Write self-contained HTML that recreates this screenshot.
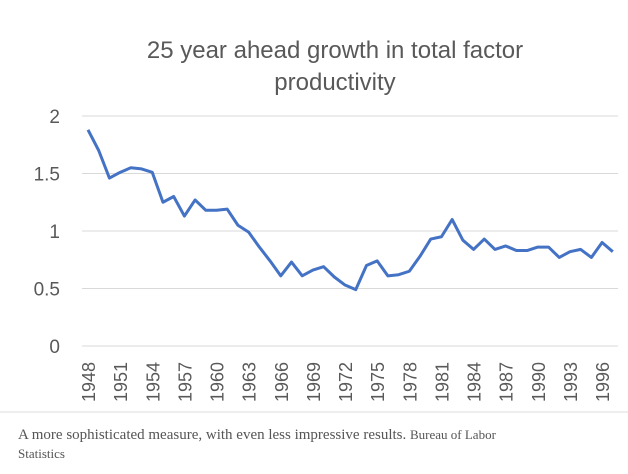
<!DOCTYPE html>
<html><head><meta charset="utf-8"><style>
body{margin:0;background:#fff;width:628px;height:469px;overflow:hidden;font-family:"Liberation Sans",sans-serif}
</style></head><body>
<svg width="628" height="469" id="c">
<text x="335" y="58" text-anchor="middle" font-size="24" fill="#595959">25 year ahead growth in total factor</text>
<text x="335" y="90" text-anchor="middle" font-size="24" fill="#595959">productivity</text>
<g id="grid"></g><g id="xt"></g>
<line x1="0" y1="412" x2="628" y2="412" stroke="#ddd"/>
<text x="18" y="439" font-family="Liberation Serif,serif" font-size="15" fill="#555">A more sophisticated measure, with even less impressive results. <tspan font-size="13">Bureau of Labor</tspan></text>
<text x="18" y="458" font-family="Liberation Serif,serif" font-size="13" fill="#555">Statistics</text>
</svg>
<script>
const years=[];for(let y=1948;y<=1997;y++)years.push(y);
const values=[1.88,1.70,1.46,1.51,1.55,1.54,1.51,1.25,1.30,1.13,1.27,1.18,1.18,1.19,1.05,0.99,0.86,0.74,0.61,0.73,0.61,0.66,0.69,0.60,0.53,0.49,0.70,0.74,0.61,0.62,0.65,0.78,0.93,0.95,1.10,0.92,0.84,0.93,0.84,0.87,0.83,0.83,0.86,0.86,0.77,0.82,0.84,0.77,0.90,0.82];
const yTicks=[0,0.5,1,1.5,2];
const yTickLabels=["0","0.5","1","1.5","2"];
const NS="http://www.w3.org/2000/svg";
const X=y=>88+(y-1948)*10.71;
const Y=v=>346-v*115;
const g=document.getElementById('grid'),xt=document.getElementById('xt'),svg=document.getElementById('c');
yTicks.forEach((t,i)=>{
 const l=document.createElementNS(NS,'line');
 
 
 l.setAttribute('x1',82);l.setAttribute('x2',618);l.setAttribute('y1',Y(t));l.setAttribute('y2',Y(t));
 l.setAttribute('stroke','#d9d9d9');g.appendChild(l);
 const tx=document.createElementNS(NS,'text');
 
 
 tx.setAttribute('x',60);tx.setAttribute('y',Y(t)+7);tx.setAttribute('text-anchor','end');
 tx.setAttribute('font-size','19');tx.setAttribute('fill','#595959');tx.textContent=yTickLabels[i];g.appendChild(tx);
});
years.forEach(y=>{if((y-1948)%3)return;
 const tx=document.createElementNS(NS,'text');
 
 
 tx.setAttribute('transform',`translate(${X(y)+7},402) rotate(-90)`);
 tx.setAttribute('font-size','18');tx.setAttribute('fill','#595959');tx.textContent=y;xt.appendChild(tx);
});
const p=document.createElementNS(NS,'polyline');


p.setAttribute('points',values.map((v,i)=>X(years[i])+','+Y(v)).join(' '));
p.setAttribute('fill','none');p.setAttribute('stroke','#4472c4');p.setAttribute('stroke-width','3');p.setAttribute('stroke-linejoin','round');
svg.appendChild(p);
</script>
</body></html>
